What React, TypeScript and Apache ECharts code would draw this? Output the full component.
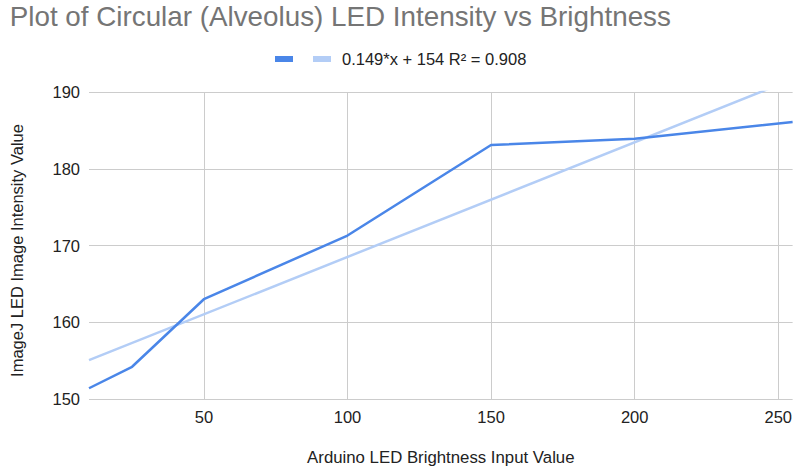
import React, { useEffect, useRef } from "react";
import * as echarts from "echarts";

const chartTitle = "Plot of Circular (Alveolus) LED Intensity vs Brightness";
const xAxisTitle = "Arduino LED Brightness Input Value";
const yAxisTitle = "ImageJ LED Image Intensity Value";
const trendLabel = "0.149*x + 154 R² = 0.908";
const mainLabel = " ";

const brightness = [10, 25, 50, 100, 150, 200, 255];
const intensity = [151.4, 154.2, 163.0, 171.3, 183.1, 183.9, 186.1];

// least-squares trendline through the data (shown rounded in the legend)
function linearFit(xs: number[], ys: number[]) {
  const n = xs.length;
  const mx = xs.reduce((a, b) => a + b, 0) / n;
  const my = ys.reduce((a, b) => a + b, 0) / n;
  let sxy = 0;
  let sxx = 0;
  for (let i = 0; i < n; i++) {
    sxy += (xs[i] - mx) * (ys[i] - my);
    sxx += (xs[i] - mx) * (xs[i] - mx);
  }
  const slope = sxy / sxx;
  return { slope, intercept: my - slope * mx };
}

export default function App() {
  const ref = useRef<HTMLDivElement>(null);
  useEffect(() => {
    if (!ref.current) return;
    const chart = echarts.init(ref.current, undefined, { renderer: "svg" });
    const font = "'Liberation Sans', Arial, sans-serif";
    const fs = 16.5;
    const fit = linearFit(brightness, intensity);
    const xEnds = [brightness[0], brightness[brightness.length - 1]];
    chart.setOption({
      animation: false,
      textStyle: { fontFamily: font },
      title: {
        text: chartTitle,
        left: 9.7,
        top: 2,
        padding: 0,
        textStyle: { fontSize: 27.8, fontWeight: "normal", color: "#757575", fontFamily: font },
      },
      legend: {
        left: 275,
        top: 50.5,
        padding: 0,
        icon: "rect",
        itemWidth: 18,
        itemHeight: 6,
        itemGap: 4.4,
        textStyle: { fontSize: fs, color: "#222", fontFamily: font, padding: [0, 0, 0, 6] },
        data: [mainLabel, trendLabel],
      },
      grid: { left: 88, right: 0, top: 92, bottom: 69, containLabel: false },
      xAxis: {
        type: "value",
        min: 10,
        max: 255,
        splitNumber: 5,
        name: xAxisTitle,
        nameLocation: "middle",
        nameGap: 50,
        nameTextStyle: { fontSize: 16.8, color: "#222", fontFamily: font },
        axisLine: { show: false },
        axisTick: { show: false },
        axisLabel: {
          fontSize: fs,
          color: "#222",
          margin: 9,
          showMinLabel: false,
          showMaxLabel: false,
          fontFamily: font,
        },
        splitLine: { show: true, showMinLine: false, showMaxLine: false, lineStyle: { color: "#cccccc", width: 1 } },
      },
      yAxis: {
        type: "value",
        min: 150,
        max: 190,
        interval: 10,
        name: yAxisTitle,
        nameLocation: "middle",
        nameGap: 64,
        nameTextStyle: { fontSize: fs, color: "#222", fontFamily: font, padding: [0, 10, 0, 0] },
        axisLine: { show: false },
        axisTick: { show: false },
        axisLabel: { fontSize: fs, color: "#222", margin: 9, fontFamily: font },
        splitLine: { show: true, lineStyle: { color: "#cccccc", width: 1 } },
      },
      series: [
        {
          name: mainLabel,
          type: "line",
          data: brightness.map((x, i) => [x, intensity[i]]),
          showSymbol: false,
          symbol: "none",
          lineStyle: { color: "#4a86e8", width: 2.5 },
          itemStyle: { color: "#4a86e8" },
          z: 3,
        },
        {
          name: trendLabel,
          type: "line",
          data: xEnds.map((x) => [x, fit.slope * x + fit.intercept]),
          showSymbol: false,
          symbol: "none",
          clip: true,
          lineStyle: { color: "#b3cdf6", width: 2.5 },
          itemStyle: { color: "#b3cdf6" },
          z: 2,
        },
      ],
    });
    return () => chart.dispose();
  }, []);
  return (
    <div
      ref={ref}
      style={{ position: "absolute", left: 0, top: 0, width: 795, height: 471 }}
    />
  );
}
